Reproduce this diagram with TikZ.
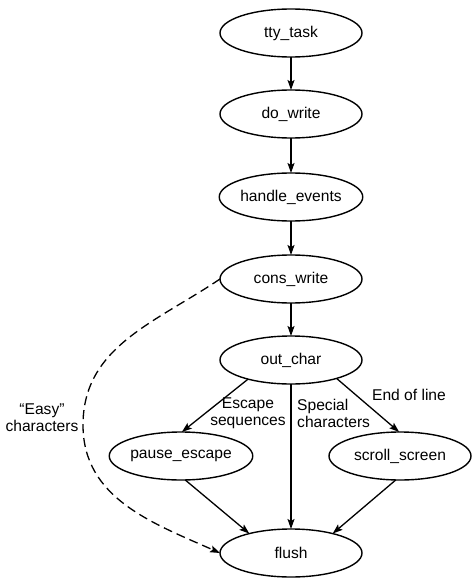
\documentclass[tikz,border=0pt]{standalone}
\usepackage{fontspec}
\setmainfont{Liberation Sans}
\usetikzlibrary{shapes.geometric,arrows.meta}
\begin{document}
\begin{tikzpicture}[x=1pt,y=-1pt,
  proc/.style={ellipse,draw,line width=1.4pt,minimum width=142pt,minimum height=48pt,inner sep=0pt,outer sep=0pt,font=\fontsize{15.6}{17}\selectfont},
  arr/.style={-{Stealth[length=10pt,width=7pt,inset=2pt]},line width=1.3pt},
  dasharr/.style={arr,dash pattern=on 9pt off 5pt},
  lbl/.style={font=\fontsize{15.6}{17}\selectfont,inner sep=0pt}]
\useasboundingbox (0,0) rectangle (475,583);
\node[proc] (tty) at (291,33) {tty\_task};
\node[proc] (dow) at (291,114) {do\_write};
\node[proc] (hev) at (291,197) {handle\_events};
\node[proc] (cons) at (291,279) {cons\_write};
\node[proc] (outc) at (291,360) {out\_char};
\node[proc] (pause) at (181,456) {pause\_escape};
\node[proc] (scroll) at (400,456) {scroll\_screen};
\node[proc] (flush) at (291,553) {flush};
\coordinate (leftpt) at (83,425);
\draw[arr] (tty) -- (dow);
\draw[arr] (dow) -- (hev);
\draw[arr] (hev) -- (cons);
\draw[arr] (cons) -- (outc);
\draw[arr] (outc.204) -- (pause.88);
\draw[arr] (outc.-22) -- (scroll.92);
\draw[arr] (outc) -- (flush);
\draw[arr] (pause.-80) -- (flush.155);
\draw[arr] (scroll.-100) -- (flush.25);
\draw[dasharr] (cons.west) to[out=214,in=90] (leftpt) to[out=-90,in=156] (flush.west);
\node[lbl,align=center] (easy) at (42,418) {“Easy”\\characters};
\node[lbl,align=center] (esc) at (248,413) {Escape\\sequences};
\node[lbl,align=left,anchor=west] (spec) at (297,413) {Special\\characters};
\node[lbl] (eol) at (409,395) {End of line};
\end{tikzpicture}
\end{document}
